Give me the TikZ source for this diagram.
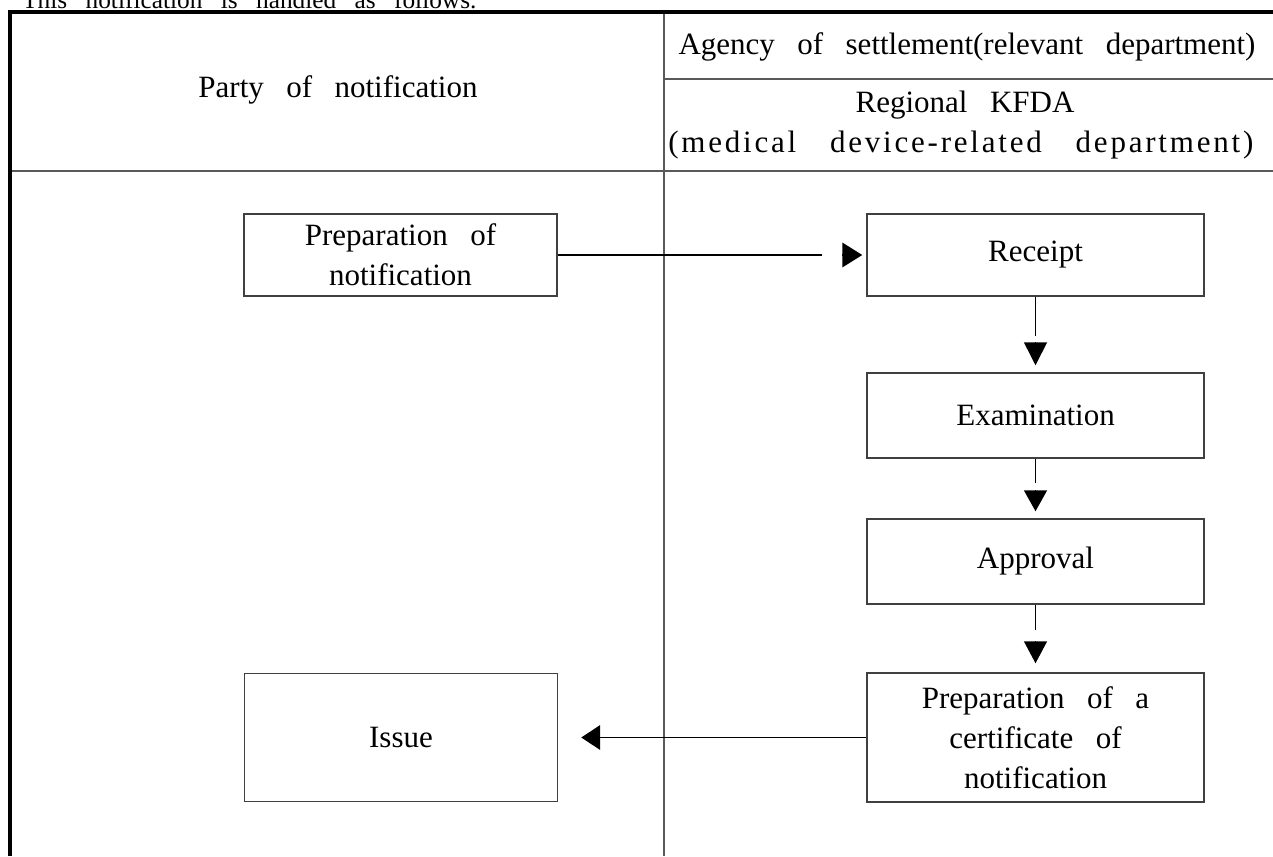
\documentclass[tikz,border=0pt]{standalone}
\usepackage{fontspec}
\setmainfont{Liberation Serif}[WordSpace=2.9]
\usetikzlibrary{arrows.meta,calc}
\begin{document}
\begin{tikzpicture}[x=0.75pt,y=-0.75pt,
  txt/.style={font=\fontsize{23.25pt}{30pt}\selectfont, inner sep=0pt},
  stepbox/.style={txt, draw=black!75, line width=1.1pt, align=center},
  wide/.style={minimum width=252.75pt},
  narrow/.style={minimum width=234.75pt},
  rulegray/.style={draw=black!65, line width=1.1pt},
  framerule/.style={draw=black, line width=2.3pt},
  flow/.style={draw=black, line width=1.1pt},
  vtip/.style={draw=black, line width=1.1pt, -{Triangle[length=#1,width=17.25pt]}},
  htip/.style={draw=black, line width=1.1pt, -{Triangle[length=#1,width=18.5pt]}}
]
\useasboundingbox (0,0) rectangle (1273,856);
\clip (0,0) rectangle (1273,856);

% caption line above the table
\node[font=\fontsize{19pt}{24pt}\selectfont, inner sep=0pt, anchor=base west] (intro) at (22,9) {This notification is handled as follows.};

% table frame and rules
\coordinate (tr) at (1273,12);
\coordinate (divtop) at (664,12);
\coordinate (divbot) at (664,856);
\coordinate (hdl) at (10,171);
\coordinate (hdr) at (1273,171);
\coordinate (rowl) at (664,79);
\coordinate (rowr) at (1273,79);
\draw[rulegray] (divtop) -- (divbot);
\draw[rulegray] (hdl) -- (hdr);
\draw[rulegray] (rowl) -- (rowr);
\draw[framerule] (10,856) -- (10,12) -- (tr);

% header texts
\node[txt] (party) at (338,90) {Party of notification};
\node[txt] (agency) at (967,47) {Agency of settlement(relevant department)};
\node[txt] (kfda) at (965,105) {Regional KFDA};
\node[txt, anchor=west] (dept) at (668,145) {\makebox[438.75pt][s]{\addfontfeatures{LetterSpace=9}(medical device-related department)}};

% process boxes
\node[stepbox, narrow, minimum height=61.5pt] (prep) at (400.5,255) {Preparation of\\notification};
\node[stepbox, wide, minimum height=61.5pt] (rec) at (1035.5,255) {Receipt};
\node[stepbox, wide, minimum height=63.75pt] (exa) at (1035.5,415.5) {Examination};
\node[stepbox, wide, minimum height=63.75pt] (app) at (1035.5,561.5) {Approval};
\node[stepbox, wide, minimum height=96.75pt] (cert) at (1035.5,737.5) {Preparation of a\\certificate of\\notification};
\node[stepbox, narrow, minimum height=96pt] (issue) at (401,737.5) {Issue};

% connectors: a line, a small gap, then a detached triangular head
\draw[flow, shorten >=33pt] (prep) -- (rec);
\draw[htip=15pt] ($(rec.west)+(-24,0)$) -- ($(rec.west)+(-4,0)$);

\draw[flow, shorten >=27pt] (rec) -- (exa);
\draw[vtip=17.25pt] ($(exa.north)+(0,-30)$) -- ($(exa.north)+(0,-7)$);

\draw[flow, shorten >=26.25pt] (exa) -- (app);
\draw[vtip=15.75pt] ($(app.north)+(0,-28)$) -- ($(app.north)+(0,-7)$);

\draw[flow, shorten >=31.5pt] (app) -- (cert);
\draw[vtip=16.5pt] ($(cert.north)+(0,-31)$) -- ($(cert.north)+(0,-9)$);

\draw[flow, shorten >=32.25pt] (cert) -- (issue);
\draw[htip=14.25pt] ($(issue.east)+(42,0)$) -- ($(issue.east)+(23,0)$);
\end{tikzpicture}
\end{document}
